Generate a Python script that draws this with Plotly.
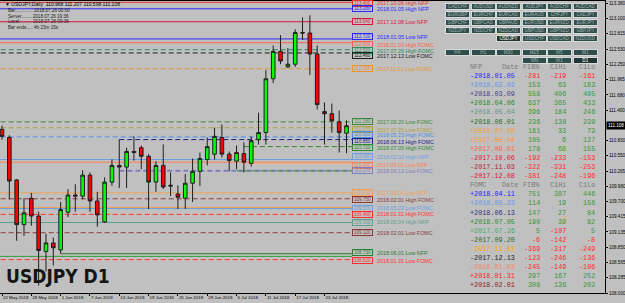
import plotly.graph_objects as go

# ---------------- data ----------------
dates = ["2018-05-22", "2018-05-23", "2018-05-24", "2018-05-25", "2018-05-28", "2018-05-29", "2018-05-30", "2018-05-31",
         "2018-06-01", "2018-06-04", "2018-06-05", "2018-06-06", "2018-06-07", "2018-06-08", "2018-06-11", "2018-06-12",
         "2018-06-13", "2018-06-14", "2018-06-15", "2018-06-18", "2018-06-19", "2018-06-20", "2018-06-21", "2018-06-22",
         "2018-06-25", "2018-06-26", "2018-06-27", "2018-06-28", "2018-06-29", "2018-07-02", "2018-07-03", "2018-07-04",
         "2018-07-05", "2018-07-06", "2018-07-09", "2018-07-10", "2018-07-11", "2018-07-12", "2018-07-13", "2018-07-16",
         "2018-07-17", "2018-07-18", "2018-07-19", "2018-07-20", "2018-07-23", "2018-07-24", "2018-07-25", "2018-07-26"]
opens = [111.04, 110.89, 110.10, 109.27, 109.76, 109.43, 108.77, 108.93, 108.80, 109.50, 109.82, 109.80,
         110.19, 109.71, 109.32, 110.06, 110.37, 110.34, 110.63, 110.70, 110.54, 110.06, 110.37, 109.985,
         109.84, 109.76, 110.04, 110.26, 110.48, 110.58, 110.89, 110.58, 110.45, 110.59, 110.41, 110.85,
         110.98, 111.98, 112.49, 112.20, 112.25, 112.84, 112.83, 112.44, 111.37, 111.33, 111.18, 110.968]
highs = [111.11, 110.93, 110.12, 109.76, 109.86, 109.51, 109.10, 109.03, 109.69, 109.93, 110.02, 110.28,
         110.24, 109.88, 110.15, 110.48, 110.85, 110.70, 110.91, 110.74, 110.58, 110.45, 110.76, 110.24,
         110.00, 110.21, 110.50, 110.61, 110.89, 111.07, 111.13, 110.63, 110.74, 110.80, 110.91, 111.35,
         112.14, 112.60, 112.79, 112.55, 112.90, 113.12, 113.16, 112.60, 111.54, 111.52, 111.39, 111.207]
lows = [110.85, 109.74, 108.97, 109.06, 109.25, 108.14, 108.40, 108.51, 108.73, 109.41, 109.51, 109.74,
        109.51, 109.23, 109.30, 109.99, 109.95, 109.95, 110.46, 110.30, 109.56, 109.88, 109.93, 109.80,
        109.56, 109.56, 109.69, 109.99, 110.37, 110.48, 110.52, 110.26, 110.30, 110.24, 110.35, 110.76,
        110.76, 111.90, 112.25, 112.18, 112.20, 112.70, 112.05, 111.41, 110.76, 110.98, 110.61, 110.598]
closes = [110.91, 110.08, 109.27, 109.49, 109.43, 108.79, 108.93, 108.84, 109.55, 109.82, 109.80, 110.19,
          109.71, 109.45, 110.06, 110.37, 110.34, 110.63, 110.61, 110.54, 110.06, 110.37, 109.97, 110.00,
          109.78, 110.04, 110.26, 110.50, 110.72, 110.91, 110.58, 110.46, 110.61, 110.43, 110.83, 110.98,
          111.98, 112.49, 112.31, 112.25, 112.84, 112.83, 112.44, 111.50, 111.33, 111.20, 110.98, 111.108]

tick_dates = ["2018-05-22", "2018-05-28", "2018-06-01", "2018-06-07", "2018-06-13", "2018-06-19",
              "2018-06-25", "2018-06-29", "2018-07-05", "2018-07-11", "2018-07-17", "2018-07-23"]
tick_labels = ["22 May 2018", "28 May 2018", "1 Jun 2018", "7 Jun 2018", "13 Jun 2018", "19 Jun 2018",
               "25 Jun 2018", "29 Jun 2018", "5 Jul 2018", "11 Jul 2018", "17 Jul 2018", "23 Jul 2018"]
price_ticks = [113.380, 113.100, 112.815, 112.530, 112.250, 111.965, 111.680, 111.400, 110.830, 110.550,
               110.265, 109.980, 109.700, 109.415, 109.135, 108.850, 108.565, 108.285, 108.000]

# horizontal levels (price, label, colour, dash, first date of line)
level_prices = [113.40, 113.28, 113.04, 112.72, 112.65, 112.52, 112.46, 112.165, 111.18, 111.07,
                110.90, 110.85, 110.72, 110.48, 110.43, 110.40, 110.27, 110.27, 109.86, 109.75,
                109.59, 109.57, 109.46, 109.31, 109.12, 108.73, 108.68, 108.62]
level_labels = ["2017.10.06 High NFP", "2018.01.05 High NFP", "2017.12.08 Low NFP", "2018.01.05 Low NFP",
                "2018.01.03 High FOMC", "2017.07.26 High FOMC", "2017.12.13 Low FOMC", "2017.11.01 Low FOMC",
                "2017.09.20 Low FOMC", "2017.07.26 Low FOMC", "2018.05.23 High FOMC", "2018.06.13 High FOMC",
                "2018.07.05 High FOMC", "2018.02.02 High NFP", "2017.09.01 Low NFP", "",
                "2018.06.13 Low FOMC", "", "2017.08.04 Low NFP", "2018.02.01 High FOMC",
                "", "2018.05.23 Low FOMC", "2018.01.31 High FOMC", "2018.05.04 High NFP",
                "2018.02.01 Low FOMC", "2018.06.01 Low NFP", "", "2018.01.31 Low FOMC"]
level_colors = ["#e8342c", "#2828ff", "#dc143c", "#2828ff", "#ff6347", "#2e8b57", "#202020", "#e8962c",
                "#3a8a3a", "#b0a040", "#4a90e2", "#202080", "#2e8b2e", "#6ca0e0", "#ff7f50", "#f4b080",
                "#8080c0", "#2e8b2e", "#f4a050", "#8b3a3a", "#f4a050", "#6ca0e0", "#ff3030", "#5f9e8f",
                "#8b3a3a", "#2e7d32", "#3a9a3a", "#ff3030"]
level_dash = ["solid", "solid", "solid", "solid", "solid", "dash", "dash", "dash", "dash", "dash",
              "dash", "dash", "dash", "solid", "solid", "solid", "dash", "dash", "solid", "dash",
              "solid", "solid", "dash", "solid", "dash", "solid", "solid", "dash"]
level_width = [1, 1, 1, 1, 1, 1, 1, 1, 1, 1, 1, 1, 1, 1, 1, 1, 2, 1, 1, 1, 1, 1, 1, 1, 1, 1, 1, 1]
level_start = [None, None, None, None, None, None, None, None, None, None, None, "2018-06-13",
               "2018-07-06", None, None, "2018-07-06", "2018-06-13", "2018-07-05", None, None,
               None, None, None, None, None, "2018-06-01", None, None]
# small vertical nudge of label rows (pixels, + = up) so close labels stay readable
level_label_shift = [-1, 0, 0, 2, -2, -1, -3, 0, 0, -2, 2, -2, -1, 3, -3, 0,
                     0, 0, 0, -1, 0, 0, 0, 0, 0, 1, 0, -1]

# table panel
nfp_dates = ["-2018.01.05", "+2018.02.02", "+2018.03.09", "+2018.04.06", "+2018.05.04", "+2018.06.01",
             "+2018.07.06", "+2017.08.04", "+2017.09.01", "-2017.10.06", "-2017.11.03", "-2017.12.08"]
nfp_colors = ["#2020ff", "#6495ed", "#483d8b", "#228b22", "#669988", "#1f6f1f",
              "#f0a030", "#ff9933", "#ff6347", "#e0203c", "#b22234", "#dc143c"]
nfp_fib = [-281, 153, 558, 637, 396, 236, 181, 105, 178, -192, -322, -381]
nfp_c1hi = [-219, 63, 406, 365, 184, 138, 33, 6, 68, -233, -331, -248]
nfp_c1lo = [-161, 183, 495, 433, 246, 239, 73, 127, 155, -153, -253, -196]

fomc_dates = ["+2018.04.11", "+2018.05.23", "+2018.06.13", "+2018.07.05", "=2017.07.26", "-2017.09.20",
              "-2017.11.01", "-2017.12.13", "-2018.01.03", "+2018.01.31", "+2018.02.01"]
fomc_colors = ["#2020ff", "#6495ed", "#303080", "#2e8b2e", "#3cab6a", "#2e6b2e",
               "#ffa500", "#202020", "#fa8060", "#ff2020", "#8b2020"]
fomc_fib = [751, 114, 147, 190, 5, -6, -369, -123, -245, 297, 308]
fomc_c1hi = [387, 19, 27, 39, -107, -142, -317, -246, -149, 167, 136]
fomc_c1lo = [446, 156, 84, 82, 5, -8, -249, -136, -106, 252, 202]

button_rows = [["CADCHF", "AUDUSD", "AUDNZD", "AUDJPY", "AUDCHF", "AUDCAD"],
               ["EURGBP", "EURCHF", "EURCAD", "EURAUD", "CHFJPY", "CADJPY"],
               ["GBPCHF", "GBPCAD", "GBPAUD", "EURUSD", "EURNZD", "EURJPY"],
               ["NZDJPY", "NZDCHF", "NZDCAD", "GBPUSD", "GBPNZD", "GBPJPY"],
               ["", "", "USDJPY", "USDCHF", "USDCAD", "NZDUSD"],
               ["H4", "H1", "M30", "M15", "M5", "M1"],
               ["", "", "", "MN", "W1", "D1"]]
active_buttons = ["USDJPY", "D1"]

header_text = "\u25BC USDJPY,Daily  110.968 111.207 110.598 111.108"
info_lines = ["Bar.............. 2018.07.26 00:00", "Server........ 2018.07.26 19:36",
              "Local.......... 2018.07.26 09:36", "Bar ends..... 4h 23m 15s"]
chart_title = "USDJPY D1"

# ---------------- layout helpers ----------------
W, H = 625, 303
PL, PR, PT, PB = 0, 605, 1, 293  # plot area in pixels


def px(x):
    return (x - PL) / (PR - PL)


def py(y):
    return (PB - y) / (PB - PT)


xidx = list(range(len(dates)))
bar_px, bar_step = 2.0, 7.33
xmin = (PL - bar_px) / bar_step
xmax = (PR - bar_px) / bar_step
line_end = len(dates) - 0.25
box_x = len(dates) - 0.2
text_x = len(dates) + 2.9

fig = go.Figure()
fig.add_trace(go.Candlestick(
    x=xidx, open=opens, high=highs, low=lows, close=closes,
    increasing=dict(line=dict(color="#1e1e1e", width=1), fillcolor="#00ff00"),
    decreasing=dict(line=dict(color="#1e1e1e", width=1), fillcolor="#ff0000"),
    whiskerwidth=0, hoverinfo="skip", showlegend=False,
))

shapes = []
annotations = []

for p, lab, col, dsh, lw, st, sh in zip(level_prices, level_labels, level_colors, level_dash, level_width,
                                        level_start, level_label_shift):
    x0 = xmin - 1 if st is None else dates.index(st)
    shapes.append(dict(type="line", xref="x", yref="y", x0=x0, x1=line_end, y0=p, y1=p,
                       line=dict(color=col, width=lw, dash="5px,3px" if dsh == "dash" else "solid"),
                       layer="below"))
    if lab:
        annotations.append(dict(xref="x", yref="y", x=box_x, y=p, xanchor="left", yanchor="middle",
                                yshift=sh, text=f"{p:.3f}", showarrow=False,
                                font=dict(family="Liberation Sans", size=4.6, color=col),
                                bordercolor=col, borderwidth=1, borderpad=0, width=19, height=5))
        annotations.append(dict(xref="x", yref="y", x=text_x, y=p, xanchor="left", yanchor="middle",
                                yshift=sh, text=lab, showarrow=False,
                                font=dict(family="Liberation Sans", size=5.4, color=col)))

# current price box on the axis
annotations.append(dict(xref="paper", yref="y", x=1, y=closes[-1], xanchor="left", yanchor="middle",
                        xshift=1, text=f"{closes[-1]:.3f}", showarrow=False, bgcolor="#000000",
                        font=dict(family="Liberation Sans", size=4.6, color="#ffffff"), borderpad=1))

# header + info
annotations.append(dict(xref="paper", yref="paper", x=px(3), y=py(4.5), xanchor="left", yanchor="middle",
                        text=header_text, showarrow=False,
                        font=dict(family="Liberation Sans", size=5, color="#000000")))
for i, ln in enumerate(info_lines):
    annotations.append(dict(xref="paper", yref="paper", x=px(6), y=py(10.8 + i * 5.4), xanchor="left",
                            yanchor="middle", text=ln, showarrow=False,
                            font=dict(family="Liberation Sans", size=4.6, color="#202020")))

annotations.append(dict(xref="paper", yref="paper", x=px(4), y=py(276), xanchor="left", yanchor="middle",
                        text=f"<b>{chart_title}</b>", showarrow=False,
                        font=dict(family="Liberation Sans Narrow, DejaVu Sans Condensed, sans-serif",
                                  size=19, color="#151515")))

# buttons
col_cx = [457.5, 483.0, 508.5, 534.0, 559.5, 585.5]
row_cy = [6.3, 14.5, 22.5, 30.3, 39.0, 52.2, 60.8]
for r, row in enumerate(button_rows):
    for c, name in enumerate(row):
        if not name:
            continue
        act = name in active_buttons
        annotations.append(dict(xref="paper", yref="paper", x=px(col_cx[c]), y=py(row_cy[r]),
                                xanchor="center", yanchor="middle", text=name, showarrow=False,
                                bgcolor="#1f3533" if act else "#2f4f4c", bordercolor="#d8d8d8",
                                borderwidth=1, borderpad=0, width=23, height=5,
                                font=dict(family="Liberation Sans", size=4.6,
                                          color="#ffffff" if act else "#a8b4b2")))

# table
mono = "Liberation Mono, DejaVu Sans Mono, monospace"
tsize = 6.8
pos_col, neg_col, hdr_col = "#3a963a", "#ff2a2a", "#7a7a7a"


def header(yc, name):
    for txt, xx, anc in [(name, 468, "left"), ("Date", 500, "left"), ("FIB%", 542, "right"),
                         ("C1Hi", 568, "right"), ("C1Lo", 597, "right")]:
        annotations.append(dict(xref="paper", yref="paper", x=px(xx), y=py(yc), xanchor=anc, yanchor="middle",
                                text=txt, showarrow=False, font=dict(family=mono, size=tsize, color=hdr_col)))


def row(yc, d, dc, vals):
    annotations.append(dict(xref="paper", yref="paper", x=px(468), y=py(yc), xanchor="left", yanchor="middle",
                            text=d, showarrow=False, font=dict(family=mono, size=tsize, color=dc)))
    for v, xx in zip(vals, [542, 568, 597]):
        annotations.append(dict(xref="paper", yref="paper", x=px(xx), y=py(yc), xanchor="right",
                                yanchor="middle", text=str(v), showarrow=False,
                                font=dict(family=mono, size=tsize, color=pos_col if v >= 0 else neg_col)))


header(67, "NFP")
k = 0
for d, dc, a, b, c in zip(nfp_dates, nfp_colors, nfp_fib, nfp_c1hi, nfp_c1lo):
    row(76 + k * 9.1, d, dc, [a, b, c])
    k += 1
header(76 + k * 9.1, "FOMC")
k += 1
for d, dc, a, b, c in zip(fomc_dates, fomc_colors, fomc_fib, fomc_c1hi, fomc_c1lo):
    row(76 + k * 9.1, d, dc, [a, b, c])
    k += 1

fig.update_layout(
    template="none",
    width=W, height=H, autosize=False,
    margin=dict(l=PL, r=W - PR, t=PT, b=H - PB, pad=0),
    paper_bgcolor="#c0c0c0", plot_bgcolor="#c0c0c0",
    showlegend=False,
    shapes=shapes, annotations=annotations,
    xaxis=dict(range=[xmin, xmax], tickvals=[dates.index(d) for d in tick_dates], ticktext=tick_labels,
               ticklabelposition="outside right", tickangle=0, ticks="outside", ticklen=2,
               tickcolor="#000000", ticklabelstandoff=0,
               tickfont=dict(family="Liberation Sans", size=4.4, color="#000000"),
               showgrid=False, zeroline=False, showline=True, linecolor="#000000", linewidth=1,
               mirror=True, rangeslider=dict(visible=False), automargin=False, fixedrange=True),
    yaxis=dict(range=[108.0, 113.425], side="right", tickvals=price_ticks,
               ticktext=[f"{v:.3f}" for v in price_ticks], ticks="outside", ticklen=2, tickcolor="#000000",
               ticklabelstandoff=0,
               tickfont=dict(family="Liberation Sans", size=4.6, color="#000000"),
               showgrid=False, zeroline=False, showline=True, linecolor="#000000", linewidth=1,
               mirror=True, automargin=False, fixedrange=True),
)

fig.write_html("out.html", config={"displayModeBar": False})
